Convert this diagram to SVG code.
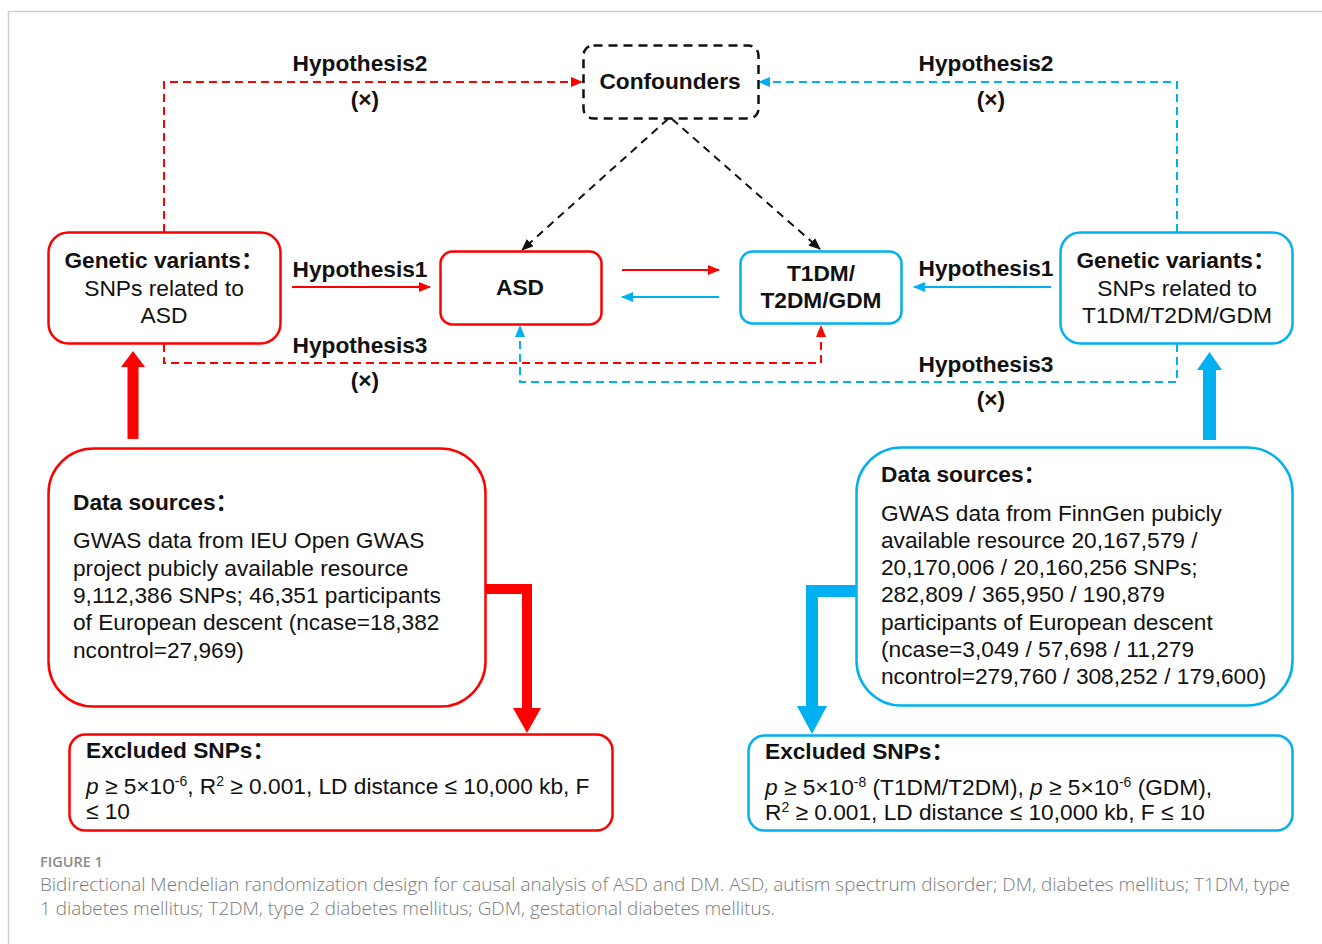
<svg xmlns="http://www.w3.org/2000/svg" width="1322" height="944" viewBox="0 0 1322 944">
<style>
.bg{fill:#fff}
.frame{fill:none;stroke:#cfcfcf;stroke-width:1.5}
.rbox{fill:#fff;stroke:#ff0000;stroke-width:2.5}
.bbox{fill:#fff;stroke:#00b0f0;stroke-width:2.5}
.cbox{fill:#fff;stroke:#111;stroke-width:2.5;stroke-dasharray:9 6}
.b{font-family:"Liberation Sans",Arial,"Noto Sans CJK SC",sans-serif;font-weight:bold;font-size:22.7px;fill:#111}
.r{font-family:"Liberation Sans",Arial,"Noto Sans CJK SC",sans-serif;font-size:22.7px;fill:#111}
.r21{font-family:"Liberation Sans",Arial,"Noto Sans CJK SC",sans-serif;font-size:22.8px;fill:#111}
.mid{text-anchor:middle}
.sup{font-size:14px}
.it{font-style:italic}
.cap{font-family:"Open Sans","Noto Sans",sans-serif;font-weight:300;fill:#7a7a7a;font-size:18.8px}
.fig{font-family:"Open Sans","Noto Sans",sans-serif;font-weight:600;fill:#8a8a8a;font-size:14.5px}
.rd{fill:none;stroke:#ff0000;stroke-width:2;stroke-dasharray:8 5}
.bd{fill:none;stroke:#00b0f0;stroke-width:2;stroke-dasharray:8 5}
.kd{fill:none;stroke:#111;stroke-width:2;stroke-dasharray:8 6}
.rs{fill:none;stroke:#ff0000;stroke-width:2}
.bs{fill:none;stroke:#00b0f0;stroke-width:2}
.rf{fill:#ff0000}
.bf{fill:#00b0f0}
</style>
<defs>
<marker id="ar" markerUnits="userSpaceOnUse" markerWidth="12" markerHeight="10" refX="11" refY="5" orient="auto"><path d="M0,0 L12,5 L0,10 z" fill="#ff0000"/></marker>
<marker id="ab" markerUnits="userSpaceOnUse" markerWidth="12" markerHeight="10" refX="11" refY="5" orient="auto"><path d="M0,0 L12,5 L0,10 z" fill="#00b0f0"/></marker>
<marker id="ak" markerUnits="userSpaceOnUse" markerWidth="12" markerHeight="10" refX="11" refY="5" orient="auto"><path d="M0,0 L12,5 L0,10 z" fill="#111"/></marker>
</defs>
<rect class="bg" x="0" y="0" width="1322" height="944"/>
<rect class="frame" x="8.5" y="11.5" width="1330" height="950"/>

<g id="connectors">
<path class="rd" d="M164,232 V82 H582" marker-end="url(#ar)"/>
<path class="bd" d="M1177,232 V82 H759" marker-end="url(#ab)"/>
<path class="kd" d="M668,119 L522,250" marker-end="url(#ak)"/>
<path class="kd" d="M672,119 L820,249" marker-end="url(#ak)"/>
<path class="rs" d="M292,287 H430" marker-end="url(#ar)"/>
<path class="rs" d="M622,270 H719" marker-end="url(#ar)"/>
<path class="bs" d="M719,297 H622" marker-end="url(#ab)"/>
<path class="bs" d="M1051,287 H914" marker-end="url(#ab)"/>
<path class="rd" d="M164,344 V363 H821 V326" marker-end="url(#ar)"/>
<path class="bd" d="M1177,344 V382 H520 V326" marker-end="url(#ab)"/>
<path class="rf" d="M127.5,439 V367 H121 L133,351 L145,367 H138.5 V439 Z"/>
<path class="bf" d="M1203,440 V370 H1197 L1209.5,352 L1222,370 H1216 V440 Z"/>
<path class="rf" d="M486,584 H532 V708 H541 L527,733 L513,708 H522 V594 H486 Z"/>
<path class="bf" d="M856,585 H806 V706 H797 L812,734 L827,706 H818 V597 H856 Z"/>
<text class="b mid" x="360" y="71">Hypothesis2</text>
<text class="b mid" x="365" y="107">(×)</text>
<text class="b mid" x="986" y="71">Hypothesis2</text>
<text class="b mid" x="991" y="107">(×)</text>
<text class="b mid" x="360" y="277">Hypothesis1</text>
<text class="b mid" x="986" y="276">Hypothesis1</text>
<text class="b mid" x="360" y="353">Hypothesis3</text>
<text class="b mid" x="365" y="388">(×)</text>
<text class="b mid" x="986" y="372">Hypothesis3</text>
<text class="b mid" x="991" y="407">(×)</text>
</g>

<g id="confounders">
<rect class="cbox" x="583.5" y="45.5" width="175" height="73" rx="10"/>
<text class="b mid" x="670" y="89">Confounders</text>
</g>

<g id="gv-asd">
<rect class="rbox" x="48.5" y="232.5" width="232" height="111" rx="20"/>
<text class="b mid" x="164" y="268">Genetic variants：</text>
<text class="r21 mid" x="164" y="296">SNPs related to</text>
<text class="r21 mid" x="164" y="323">ASD</text>
</g>

<g id="asd">
<rect class="rbox" x="440.5" y="251.5" width="161" height="73" rx="12"/>
<text class="b mid" x="520" y="295">ASD</text>
</g>

<g id="dm">
<rect class="bbox" x="740.5" y="251.5" width="161" height="72" rx="12"/>
<text class="b mid" x="821" y="281">T1DM/</text>
<text class="b mid" x="821" y="308">T2DM/GDM</text>
</g>

<g id="gv-dm">
<rect class="bbox" x="1060.5" y="232.5" width="232" height="111" rx="20"/>
<text class="b mid" x="1176" y="268">Genetic variants：</text>
<text class="r21 mid" x="1177" y="296">SNPs related to</text>
<text class="r21 mid" x="1177" y="323">T1DM/T2DM/GDM</text>
</g>

<g id="ds-asd">
<rect class="rbox" x="48.5" y="448.5" width="437" height="258" rx="45"/>
<text class="b" x="73" y="510">Data sources：</text>
<text class="r" x="73" y="548">GWAS data from IEU Open GWAS</text>
<text class="r" x="73" y="576">project pubicly available resource</text>
<text class="r" x="73" y="603">9,112,386 SNPs; 46,351 participants</text>
<text class="r" x="73" y="630">of European descent (ncase=18,382</text>
<text class="r" x="73" y="658">ncontrol=27,969)</text>
</g>

<g id="ds-dm">
<rect class="bbox" x="856.5" y="447.5" width="436" height="258" rx="45"/>
<text class="b" x="881" y="482">Data sources：</text>
<text class="r" x="881" y="521">GWAS data from FinnGen pubicly</text>
<text class="r" x="881" y="548">available resource 20,167,579 /</text>
<text class="r" x="881" y="575">20,170,006 / 20,160,256 SNPs;</text>
<text class="r" x="881" y="602">282,809 / 365,950 / 190,879</text>
<text class="r" x="881" y="630">participants of European descent</text>
<text class="r" x="881" y="657">(ncase=3,049 / 57,698 / 11,279</text>
<text class="r" x="881" y="684">ncontrol=279,760 / 308,252 / 179,600)</text>
</g>

<g id="ex-asd">
<rect class="rbox" x="69.5" y="734.5" width="543" height="96" rx="16"/>
<text class="b" x="86" y="758">Excluded SNPs：</text>
<text class="r" x="86" y="794"><tspan class="it">p</tspan> ≥ 5×10<tspan class="sup" dy="-8">-6</tspan><tspan dy="8">, R</tspan><tspan class="sup" dy="-8">2</tspan><tspan dy="8"> ≥ 0.001, LD distance ≤ 10,000 kb, F</tspan></text>
<text class="r" x="86" y="819">≤ 10</text>
</g>

<g id="ex-dm">
<rect class="bbox" x="748.5" y="735.5" width="544" height="95" rx="16"/>
<text class="b" x="765" y="759">Excluded SNPs：</text>
<text class="r" x="765" y="795"><tspan class="it">p</tspan> ≥ 5×10<tspan class="sup" dy="-8">-8</tspan><tspan dy="8"> (T1DM/T2DM), </tspan><tspan class="it">p</tspan> ≥ 5×10<tspan class="sup" dy="-8">-6</tspan><tspan dy="8"> (GDM),</tspan></text>
<text class="r" x="765" y="820">R<tspan class="sup" dy="-8">2</tspan><tspan dy="8"> ≥ 0.001, LD distance ≤ 10,000 kb, F ≤ 10</tspan></text>
</g>

<g id="caption">
<text class="fig" x="40" y="867">FIGURE 1</text>
<text class="cap" x="40" y="891" textLength="1250" lengthAdjust="spacingAndGlyphs">Bidirectional Mendelian randomization design for causal analysis of ASD and DM. ASD, autism spectrum disorder; DM, diabetes mellitus; T1DM, type</text>
<text class="cap" x="40" y="915" textLength="735" lengthAdjust="spacingAndGlyphs">1 diabetes mellitus; T2DM, type 2 diabetes mellitus; GDM, gestational diabetes mellitus.</text>
</g>
</svg>
